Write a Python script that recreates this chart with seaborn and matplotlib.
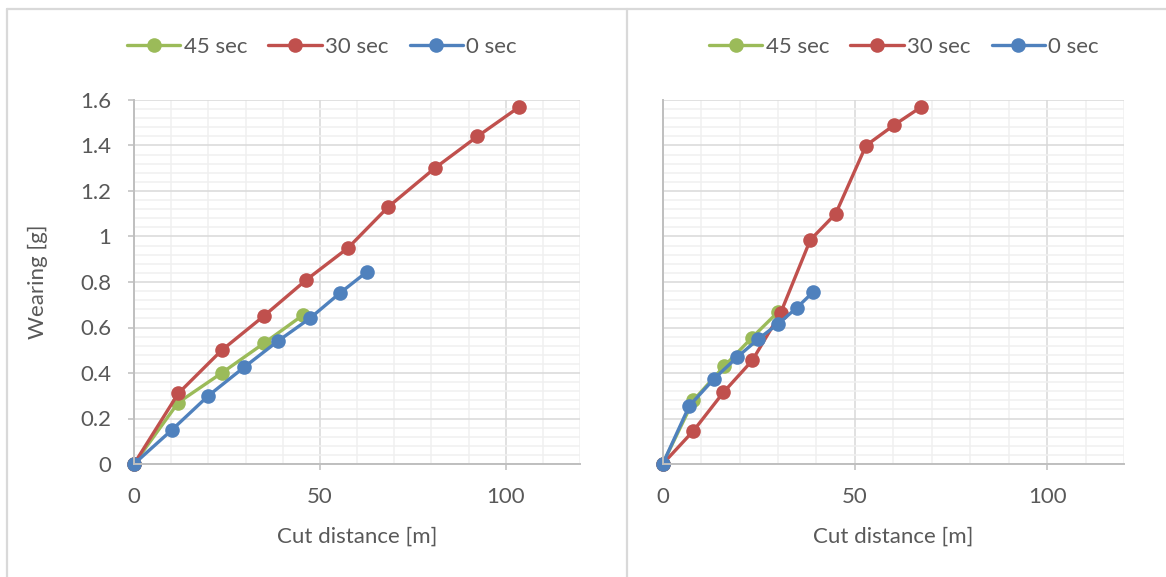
import matplotlib
matplotlib.use("Agg")
import matplotlib.pyplot as plt
from matplotlib.lines import Line2D
from matplotlib.ticker import MultipleLocator, FuncFormatter
import numpy as np
import pandas as pd
import seaborn as sns

# Series labels and colours
series = ["45 sec", "30 sec", "0 sec"]
colors = ["#9BBB59", "#C0504D", "#4F81BD"]

# Left panel: cut distance [m] and wearing [g]
left_x_45 = [0, 11.9, 23.6, 34.9, 45.5]
left_y_45 = [0, 0.27, 0.40, 0.53, 0.655]
left_x_30 = [0, 11.9, 23.6, 34.9, 46.4, 57.6, 68.4, 80.9, 92.4, 103.7]
left_y_30 = [0, 0.31, 0.50, 0.65, 0.81, 0.95, 1.13, 1.30, 1.44, 1.57]
left_x_0 = [0, 10.2, 20.0, 29.6, 38.7, 47.3, 55.3, 62.7]
left_y_0 = [0, 0.15, 0.30, 0.425, 0.54, 0.64, 0.75, 0.845]

# Right panel
right_x_45 = [0, 8.0, 16.0, 23.2, 30.1]
right_y_45 = [0, 0.28, 0.43, 0.555, 0.67]
right_x_30 = [0, 8.0, 15.8, 23.3, 30.7, 38.4, 45.0, 52.9, 60.2, 67.3]
right_y_30 = [0, 0.146, 0.315, 0.455, 0.665, 0.985, 1.10, 1.40, 1.49, 1.57]
right_x_0 = [0, 6.9, 13.4, 19.4, 24.9, 30.1, 34.9, 39.2]
right_y_0 = [0, 0.255, 0.375, 0.47, 0.55, 0.617, 0.687, 0.757]

x_label = "Cut distance [m]"
y_label = "Wearing [g]"


def long_frame(xs, ys):
    parts = []
    for name, x, y in zip(series, xs, ys):
        parts.append(pd.DataFrame({"dist": x, "wear": y, "series": name,
                                   "order": np.arange(len(x))}))
    return pd.concat(parts, ignore_index=True)


left_df = long_frame([left_x_45, left_x_30, left_x_0],
                     [left_y_45, left_y_30, left_y_0])
right_df = long_frame([right_x_45, right_x_30, right_x_0],
                      [right_y_45, right_y_30, right_y_0])

sns.set_theme(style="white")
plt.rcParams["font.family"] = ["Lato", "DejaVu Sans"]
text_color = "#595959"
fs = 16

W, H = 1166, 577
fig = plt.figure(figsize=(W / 100, H / 100), dpi=100)
palette = dict(zip(series, colors))


def px_axes(x0, x1, y0, y1):
    return fig.add_axes([x0 / W, 1 - y1 / H, (x1 - x0) / W, (y1 - y0) / H])


ax_l = px_axes(134, 580, 100, 464)
ax_r = px_axes(662.7, 1124, 100, 464)

for ax, df, show_y in [(ax_l, left_df, True), (ax_r, right_df, False)]:
    sns.lineplot(data=df, x="dist", y="wear", hue="series", hue_order=series,
                 palette=palette, sort=False, estimator=None, units="series",
                 marker="o", markersize=10.5, markeredgewidth=0, linewidth=2.4,
                 legend=False, ax=ax)
    for ln in ax.lines:
        ln.set_clip_on(False)
    ax.set_xlim(0, 120)
    ax.set_ylim(0, 1.6)
    ax.xaxis.set_major_locator(MultipleLocator(50))
    ax.xaxis.set_minor_locator(MultipleLocator(10))
    ax.yaxis.set_major_locator(MultipleLocator(0.2))
    ax.yaxis.set_minor_locator(MultipleLocator(0.04))
    ax.yaxis.set_major_formatter(FuncFormatter(lambda v, p: f"{v:g}"))
    ax.set_axisbelow(True)
    ax.grid(which="major", color="#d9d9d9", linewidth=1.1)
    ax.grid(which="minor", color="#f0f0f0", linewidth=1.1)
    for s in ["top", "right"]:
        ax.spines[s].set_visible(False)
    for s in ["left", "bottom"]:
        ax.spines[s].set_color("#bfbfbf")
        ax.spines[s].set_linewidth(1.4)
    ax.tick_params(axis="x", which="major", length=4.5, width=1.1,
                   color="#bfbfbf", labelsize=fs, labelcolor=text_color, pad=12,
                   bottom=True)
    ax.tick_params(which="minor", length=0)
    if show_y:
        ax.tick_params(axis="y", which="major", length=4.5, width=1.1,
                       color="#bfbfbf", labelsize=fs, labelcolor=text_color,
                       pad=12, left=True)
        ax.set_ylabel(y_label, fontsize=fs, color=text_color, labelpad=23)
    else:
        ax.tick_params(axis="y", which="both", length=0, labelleft=False)
        ax.set_ylabel("")
    ax.set_xlabel(x_label, fontsize=fs, color=text_color, labelpad=14)

# Legends above each panel
handles = [Line2D([0], [0], color=c, lw=2.4, marker="o", markersize=10.5,
                  markeredgewidth=0) for c in colors]
for cx in (322, 904):
    fig.legend(handles, series, loc="center", bbox_to_anchor=(cx / W, 1 - 47 / H),
               ncol=3, frameon=False, fontsize=fs, labelcolor=text_color,
               handlelength=2.4, handletextpad=0.15, columnspacing=0.95)

# Chart frames
frame_kw = dict(color="#d9d9d9", linewidth=1.6, transform=fig.transFigure)
fig.add_artist(Line2D([7 / W, 1], [1 - 8.7 / H] * 2, **frame_kw))
fig.add_artist(Line2D([7 / W] * 2, [0, 1 - 8.7 / H], **frame_kw))
fig.add_artist(Line2D([627 / W] * 2, [0, 1 - 8.7 / H], **frame_kw))

fig.savefig("out.png", dpi=100, facecolor="white")
